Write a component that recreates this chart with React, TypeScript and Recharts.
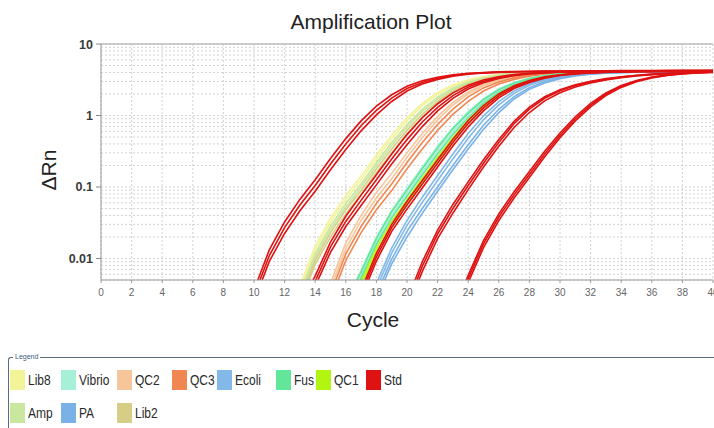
import React from 'react';
import { LineChart, Line, XAxis, YAxis, CartesianGrid, ReferenceLine, Label } from 'recharts';

// ---------- axis values ----------
const cycleTicks = [0, 2, 4, 6, 8, 10, 12, 14, 16, 18, 20, 22, 24, 26, 28, 30, 32, 34, 36, 38, 40];
const decadeTicks = [0.01, 0.1, 1, 10];
const gridValues = [
  0.006, 0.007, 0.008, 0.009, 0.01,
  0.02, 0.03, 0.04, 0.05, 0.06, 0.07, 0.08, 0.09, 0.1,
  0.2, 0.3, 0.4, 0.5, 0.6, 0.7, 0.8, 0.9, 1,
  2, 3, 4, 5, 6, 7, 8, 9, 10,
];

// ---------- curves (ΔRn per cycle, starting at cycle `from`) ----------
type Curve = { from: number; dRn: number[] };

const std1a: Curve = { from: 10, dRn: [0.003, 0.011, 0.027, 0.056, 0.105, 0.21, 0.40, 0.72, 1.18, 1.75, 2.38, 2.9, 3.32, 3.62, 3.83, 3.96, 4.04, 4.09, 4.12, 4.14, 4.16, 4.17, 4.18, 4.19, 4.2, 4.21, 4.22, 4.23, 4.24, 4.25, 4.26] };
const std1b: Curve = { from: 10, dRn: [0.0025, 0.0091, 0.0224, 0.0465, 0.087, 0.174, 0.335, 0.61, 1.02, 1.57, 2.2, 2.75, 3.2, 3.54, 3.77, 3.92, 4.01, 4.06, 4.1, 4.12, 4.14, 4.15, 4.16, 4.17, 4.18, 4.19, 4.2, 4.21, 4.22, 4.23, 4.24] };
const std1c: Curve = { from: 10, dRn: [0.0036, 0.0132, 0.0324, 0.067, 0.126, 0.25, 0.475, 0.84, 1.35, 1.95, 2.56, 3.05, 3.43, 3.7, 3.89, 4.0, 4.08, 4.13, 4.16, 4.18, 4.2, 4.21, 4.22, 4.23, 4.24, 4.25, 4.26, 4.27, 4.28, 4.29, 4.3] };

const std2a: Curve = { from: 13, dRn: [0.0022, 0.0057, 0.017, 0.039, 0.077, 0.148, 0.29, 0.54, 0.93, 1.46, 2.07, 2.66, 3.13, 3.49, 3.74, 3.9, 4.0, 4.07, 4.11, 4.13, 4.15, 4.16, 4.17, 4.18, 4.19, 4.2, 4.21, 4.22] };
const std2b: Curve = { from: 13, dRn: [0.0019, 0.0048, 0.0145, 0.033, 0.065, 0.126, 0.247, 0.46, 0.81, 1.3, 1.9, 2.5, 3.0, 3.4, 3.68, 3.86, 3.97, 4.05, 4.09, 4.12, 4.14, 4.15, 4.16, 4.17, 4.18, 4.19, 4.2, 4.21] };
const std2c: Curve = { from: 13, dRn: [0.0016, 0.0041, 0.0122, 0.028, 0.055, 0.107, 0.21, 0.39, 0.7, 1.16, 1.74, 2.35, 2.87, 3.3, 3.61, 3.82, 3.94, 4.03, 4.08, 4.11, 4.13, 4.14, 4.15, 4.16, 4.17, 4.18, 4.19, 4.2] };

const std3a: Curve = { from: 17, dRn: [0.0032, 0.0105, 0.027, 0.056, 0.11, 0.215, 0.42, 0.77, 1.27, 1.88, 2.5, 3.0, 3.4, 3.67, 3.85, 3.96, 4.03, 4.07, 4.1, 4.12, 4.13, 4.14, 4.15, 4.16] };
const std3b: Curve = { from: 17, dRn: [0.0028, 0.0092, 0.024, 0.049, 0.097, 0.19, 0.375, 0.69, 1.16, 1.76, 2.38, 2.9, 3.33, 3.62, 3.82, 3.94, 4.01, 4.06, 4.09, 4.11, 4.12, 4.13, 4.14, 4.15] };
const std3c: Curve = { from: 17, dRn: [0.0036, 0.0118, 0.03, 0.063, 0.123, 0.24, 0.465, 0.85, 1.38, 2.0, 2.6, 3.09, 3.47, 3.72, 3.88, 3.98, 4.05, 4.09, 4.12, 4.14, 4.15, 4.16, 4.17, 4.18] };

const std4a: Curve = { from: 20, dRn: [0.0022, 0.0078, 0.022, 0.05, 0.105, 0.215, 0.42, 0.77, 1.23, 1.74, 2.22, 2.62, 2.95, 3.22, 3.44, 3.62, 3.76, 3.87, 3.95, 4.01, 4.05] };
const std4b: Curve = { from: 20, dRn: [0.0019, 0.0066, 0.019, 0.043, 0.092, 0.19, 0.37, 0.68, 1.1, 1.6, 2.08, 2.5, 2.85, 3.14, 3.38, 3.57, 3.72, 3.84, 3.93, 3.99, 4.03] };
const std4c: Curve = { from: 20, dRn: [0.0026, 0.009, 0.025, 0.057, 0.118, 0.24, 0.46, 0.83, 1.31, 1.83, 2.3, 2.7, 3.02, 3.28, 3.49, 3.66, 3.79, 3.89, 3.97, 4.03, 4.07] };

const std5a: Curve = { from: 23, dRn: [0.0016, 0.0052, 0.016, 0.038, 0.078, 0.15, 0.29, 0.53, 0.9, 1.4, 1.98, 2.55, 3.03, 3.4, 3.67, 3.85, 3.96, 4.03] };
const std5b: Curve = { from: 23, dRn: [0.0014, 0.0046, 0.0142, 0.034, 0.07, 0.136, 0.265, 0.49, 0.84, 1.32, 1.9, 2.47, 2.96, 3.35, 3.63, 3.82, 3.94, 4.01] };
const std5c: Curve = { from: 23, dRn: [0.0018, 0.0058, 0.0178, 0.042, 0.086, 0.165, 0.315, 0.57, 0.96, 1.48, 2.06, 2.62, 3.09, 3.45, 3.71, 3.88, 3.98, 4.05] };

const lib8a: Curve = { from: 12, dRn: [0.00135, 0.0041, 0.0149, 0.0365, 0.0756, 0.142, 0.28, 0.53, 0.93, 1.48, 2.1, 2.68, 3.15, 3.5, 3.74, 3.9, 4.0, 4.07, 4.11, 4.14, 4.16, 4.18, 4.19, 4.2, 4.21, 4.22, 4.23, 4.24, 4.25] };
const lib8b: Curve = { from: 12, dRn: [0.0012, 0.0036, 0.0132, 0.0324, 0.067, 0.126, 0.25, 0.475, 0.85, 1.37, 1.98, 2.58, 3.06, 3.44, 3.7, 3.87, 3.98, 4.06, 4.1, 4.13, 4.15, 4.17, 4.18, 4.19, 4.2, 4.21, 4.22, 4.23, 4.24] };
const ampA: Curve = { from: 12, dRn: [0.00105, 0.0032, 0.0116, 0.0284, 0.059, 0.11, 0.22, 0.42, 0.75, 1.22, 1.8, 2.43, 2.94, 3.35, 3.64, 3.84, 3.97, 4.05, 4.09, 4.12, 4.14, 4.16, 4.17, 4.18, 4.19, 4.2, 4.21, 4.22, 4.23] };
const ampB: Curve = { from: 12, dRn: [0.00095, 0.0029, 0.0105, 0.0257, 0.053, 0.1, 0.2, 0.38, 0.69, 1.14, 1.7, 2.33, 2.86, 3.29, 3.6, 3.82, 3.95, 4.03, 4.08, 4.11, 4.13, 4.15, 4.16, 4.17, 4.18, 4.19, 4.2, 4.21, 4.22] };
const lib2a: Curve = { from: 12, dRn: [0.00085, 0.0026, 0.0094, 0.023, 0.048, 0.089, 0.18, 0.34, 0.62, 1.04, 1.58, 2.2, 2.75, 3.2, 3.53, 3.77, 3.92, 4.01, 4.07, 4.1, 4.12, 4.14, 4.15, 4.16, 4.17, 4.18, 4.19, 4.2, 4.21] };
const lib2b: Curve = { from: 12, dRn: [0.00075, 0.0023, 0.0083, 0.02, 0.042, 0.079, 0.16, 0.3, 0.56, 0.95, 1.47, 2.08, 2.64, 3.11, 3.47, 3.72, 3.89, 3.99, 4.05, 4.09, 4.11, 4.13, 4.14, 4.15, 4.16, 4.17, 4.18, 4.19, 4.2] };

const qc2a: Curve = { from: 14, dRn: [0.0013, 0.0045, 0.0165, 0.04, 0.084, 0.155, 0.3, 0.56, 0.97, 1.52, 2.13, 2.72, 3.18, 3.52, 3.76, 3.92, 4.02, 4.08, 4.12, 4.14, 4.16, 4.17, 4.18, 4.19, 4.2, 4.21, 4.22] };
const qc2b: Curve = { from: 14, dRn: [0.0012, 0.0038, 0.0138, 0.034, 0.07, 0.13, 0.26, 0.49, 0.87, 1.4, 2.0, 2.6, 3.09, 3.46, 3.72, 3.89, 4.0, 4.07, 4.11, 4.13, 4.15, 4.16, 4.17, 4.18, 4.19, 4.2, 4.21] };
const qc3a: Curve = { from: 14, dRn: [0.001, 0.0032, 0.0116, 0.028, 0.059, 0.11, 0.22, 0.42, 0.75, 1.23, 1.82, 2.43, 2.95, 3.36, 3.65, 3.85, 3.97, 4.05, 4.1, 4.12, 4.14, 4.15, 4.16, 4.17, 4.18, 4.19, 4.2] };
const qc3b: Curve = { from: 14, dRn: [0.0009, 0.0026, 0.0094, 0.023, 0.048, 0.089, 0.18, 0.34, 0.62, 1.04, 1.58, 2.2, 2.75, 3.2, 3.53, 3.77, 3.92, 4.01, 4.07, 4.1, 4.12, 4.13, 4.14, 4.15, 4.16, 4.17, 4.18] };

const vibrioA: Curve = { from: 16, dRn: [0.0025, 0.0068, 0.02, 0.047, 0.095, 0.19, 0.37, 0.68, 1.13, 1.72, 2.36, 2.9, 3.32, 3.62, 3.82, 3.95, 4.03, 4.08, 4.11, 4.13, 4.14, 4.15, 4.16, 4.17, 4.18] };
const vibrioB: Curve = { from: 16, dRn: [0.0021, 0.0058, 0.017, 0.04, 0.081, 0.162, 0.315, 0.59, 1.0, 1.57, 2.2, 2.77, 3.22, 3.56, 3.78, 3.92, 4.01, 4.06, 4.1, 4.12, 4.13, 4.14, 4.15, 4.16, 4.17] };
const fusA: Curve = { from: 16, dRn: [0.0024, 0.0065, 0.019, 0.045, 0.09, 0.18, 0.35, 0.65, 1.08, 1.66, 2.3, 2.85, 3.28, 3.6, 3.81, 3.94, 4.02, 4.07, 4.1, 4.12, 4.13, 4.14, 4.15, 4.16, 4.17] };
const fusB: Curve = { from: 16, dRn: [0.0019, 0.0053, 0.0156, 0.037, 0.074, 0.148, 0.29, 0.54, 0.93, 1.48, 2.1, 2.68, 3.15, 3.5, 3.74, 3.9, 3.99, 4.05, 4.09, 4.11, 4.12, 4.13, 4.14, 4.15, 4.16] };
const qc1a: Curve = { from: 16, dRn: [0.0017, 0.0048, 0.014, 0.033, 0.066, 0.133, 0.26, 0.49, 0.86, 1.38, 2.0, 2.58, 3.07, 3.45, 3.71, 3.88, 3.98, 4.05, 4.09, 4.11, 4.12, 4.13, 4.14, 4.15, 4.16] };
const qc1b: Curve = { from: 16, dRn: [0.0015, 0.0042, 0.0124, 0.029, 0.059, 0.118, 0.235, 0.44, 0.79, 1.29, 1.9, 2.5, 3.0, 3.4, 3.68, 3.86, 3.97, 4.04, 4.08, 4.1, 4.11, 4.12, 4.13, 4.14, 4.15] };

const ecoliA: Curve = { from: 17, dRn: [0.0012, 0.0045, 0.014, 0.034, 0.072, 0.145, 0.29, 0.56, 0.99, 1.56, 2.2, 2.78, 3.22, 3.54, 3.76, 3.9, 3.99, 4.04, 4.07, 4.09, 4.1, 4.11, 4.12, 4.13] };
const ecoliB: Curve = { from: 17, dRn: [0.001, 0.0038, 0.0119, 0.029, 0.061, 0.123, 0.247, 0.48, 0.87, 1.41, 2.04, 2.64, 3.11, 3.47, 3.71, 3.87, 3.97, 4.02, 4.06, 4.08, 4.09, 4.1, 4.11, 4.12] };
const paA: Curve = { from: 17, dRn: [0.0009, 0.0032, 0.0098, 0.024, 0.05, 0.1, 0.2, 0.39, 0.73, 1.22, 1.83, 2.45, 2.96, 3.36, 3.64, 3.82, 3.93, 4.0, 4.04, 4.07, 4.08, 4.09, 4.1, 4.11] };
const paB: Curve = { from: 17, dRn: [0.0008, 0.0027, 0.0084, 0.02, 0.043, 0.087, 0.174, 0.34, 0.64, 1.1, 1.7, 2.32, 2.85, 3.28, 3.58, 3.78, 3.9, 3.98, 4.03, 4.06, 4.07, 4.08, 4.09, 4.1] };

// ---------- series (legend order) ----------
type Sample = { name: string; color: string; curves: Curve[] };
const lib8: Sample = { name: 'Lib8', color: '#F3F39A', curves: [lib8a, lib8b] };
const vibrio: Sample = { name: 'Vibrio', color: '#A6F0D8', curves: [vibrioA, vibrioB] };
const qc2: Sample = { name: 'QC2', color: '#F7C59A', curves: [qc2a, qc2b] };
const qc3: Sample = { name: 'QC3', color: '#F08752', curves: [qc3a, qc3b] };
const ecoli: Sample = { name: 'Ecoli', color: '#82B9E8', curves: [ecoliA, ecoliB] };
const fus: Sample = { name: 'Fus', color: '#62E69A', curves: [fusA, fusB] };
const qc1: Sample = { name: 'QC1', color: '#B2F512', curves: [qc1a, qc1b] };
const std: Sample = { name: 'Std', color: '#DE1212', curves: [std1a, std1b, std1c, std2a, std2b, std2c, std3a, std3b, std3c, std4a, std4b, std4c, std5a, std5b, std5c] };
const amp: Sample = { name: 'Amp', color: '#C9E79E', curves: [ampA, ampB] };
const pa: Sample = { name: 'PA', color: '#7AB2E8', curves: [paA, paB] };
const lib2: Sample = { name: 'Lib2', color: '#D6CD86', curves: [lib2a, lib2b] };

const legendOrder: Sample[] = [lib8, vibrio, qc2, qc3, ecoli, fus, qc1, std, amp, pa, lib2];
const drawOrder: Sample[] = [lib8, amp, lib2, qc2, qc3, vibrio, fus, qc1, ecoli, pa, std];

const toRows = (c: Curve) => c.dRn.map((v, i) => ({ cycle: c.from + i, dRn: v }));

const FONT = '"Liberation Sans", Arial, sans-serif';
const PLOT_LEFT = 101;

const YTick = (props: any) => {
  const { y, payload } = props;
  const v = payload.value;
  if (!decadeTicks.includes(v)) return <g />;
  return (
    <g>
      <line x1={PLOT_LEFT - 5} x2={PLOT_LEFT} y1={y} y2={y} stroke="#888" />
      <text x={PLOT_LEFT - 8} y={y} dy={4.5} textAnchor="end" fontSize={12.5} fontWeight="bold" fill="#3a3a3a" fontFamily={FONT}>
        {String(v)}
      </text>
    </g>
  );
};

export default function App() {
  return (
    <div style={{ position: 'absolute', left: 0, top: 0, width: 714, height: 428, overflow: 'hidden', background: '#fff', fontFamily: FONT }}>
      <div style={{ position: 'absolute', left: 0, top: 10, width: 742, textAlign: 'center', fontSize: 21, lineHeight: '24px', color: '#222' }}>
        Amplification Plot
      </div>
      <div style={{ position: 'absolute', left: 0, top: 0 }}>
        <LineChart width={730} height={340} margin={{ top: 44, right: 17, bottom: 0, left: 0 }}>
          <CartesianGrid stroke="#d2d2d2" strokeDasharray="2 2" />
          <XAxis
            dataKey="cycle"
            type="number"
            domain={[0, 40]}
            ticks={cycleTicks}
            interval={0}
            allowDuplicatedCategory={false}
            height={60}
            stroke="#999"
            tickSize={3}
            tickMargin={6}
            tick={{ fontSize: 10, fill: '#666', fontFamily: FONT }}
            label={
              <Label
                content={() => (
                  <text x={373} y={327} textAnchor="middle" fontSize={21} fill="#222" fontFamily={FONT}>
                    Cycle
                  </text>
                )}
              />
            }
          />
          <YAxis
            scale="log"
            domain={[0.005, 10]}
            allowDataOverflow
            ticks={gridValues}
            interval={0}
            width={PLOT_LEFT}
            stroke="#999"
            tickLine={false}
            tick={<YTick />}
            label={
              <Label
                content={() => (
                  <text x={56} y={170} transform="rotate(-90 56 170)" textAnchor="middle" fontSize={21} fill="#222" fontFamily={FONT}>
                    ΔRn
                  </text>
                )}
              />
            }
          />
          <ReferenceLine y={10} stroke="#bdbdbd" strokeWidth={1.5} />
          {drawOrder.flatMap((s) =>
            s.curves.map((c, i) => (
              <Line
                key={`${s.name}-${i}`}
                data={toRows(c)}
                dataKey="dRn"
                type="linear"
                stroke={s.color}
                strokeWidth={1.6}
                dot={false}
                activeDot={false}
                isAnimationActive={false}
                legendType="none"
              />
            ))
          )}
        </LineChart>
      </div>

      {/* Legend box */}
      <div style={{ position: 'absolute', left: 8, top: 357, width: 730, height: 100, borderTop: '1px solid #5b6b7b', borderLeft: '1px solid #5b6b7b', borderTopLeftRadius: 3 }} />
      <div style={{ position: 'absolute', left: 13, top: 352, fontSize: 7, lineHeight: '9px', color: '#3d5d80', background: '#fff', padding: '0 2px' }}>
        Legend
      </div>
      <div
        style={{
          position: 'absolute',
          left: 10,
          top: 370,
          display: 'grid',
          gridTemplateColumns: '51px 56px 55px 45px 59px 40px 50px 60px',
          rowGap: 13,
        }}
      >
        {legendOrder.map((s) => (
          <div key={s.name} style={{ display: 'flex', alignItems: 'center', height: 20, whiteSpace: 'nowrap' }}>
            <span style={{ display: 'inline-block', flex: '0 0 15px', width: 15, height: 20, background: s.color, marginRight: 3 }} />
            <span
              style={{
                display: 'inline-block',
                fontSize: 15,
                color: '#2a2a2a',
                lineHeight: '20px',
                transform: 'scaleX(0.8)',
                transformOrigin: 'left center',
              }}
            >
              {s.name}
            </span>
          </div>
        ))}
      </div>
    </div>
  );
}
